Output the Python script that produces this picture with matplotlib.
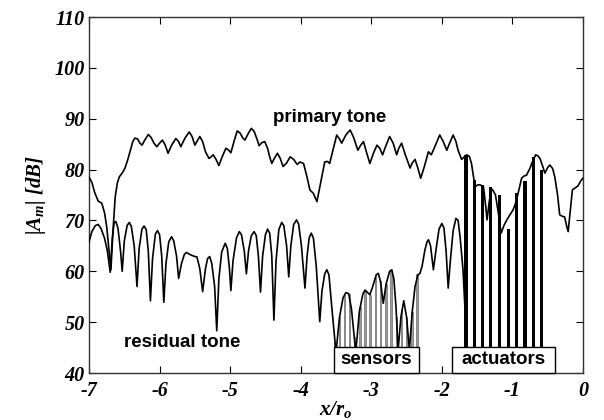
import matplotlib
matplotlib.use("Agg")
import matplotlib.pyplot as plt
from matplotlib.patches import Rectangle

plt.rcParams['axes.unicode_minus'] = False
plt.rcParams['mathtext.fontset'] = 'custom'
plt.rcParams['mathtext.rm'] = 'Liberation Serif:bold:italic'
plt.rcParams['mathtext.it'] = 'Liberation Serif:bold:italic'
plt.rcParams['mathtext.bf'] = 'Liberation Serif:bold:italic'

# primary tone (x/r_o, dB)
primary_x = [-7.00, -6.96, -6.92, -6.87, -6.82, -6.78, -6.75, -6.72, -6.69, -6.66,
             -6.63, -6.60, -6.57, -6.53, -6.49, -6.45, -6.42, -6.38, -6.35, -6.31,
             -6.28, -6.25, -6.21, -6.16, -6.12, -6.08, -6.04, -6.00, -5.96, -5.92,
             -5.88, -5.83, -5.77, -5.73, -5.70, -5.64, -5.58, -5.54, -5.50, -5.46,
             -5.43, -5.39, -5.35, -5.30, -5.27, -5.24, -5.20, -5.16, -5.11, -5.06,
             -5.02, -4.99, -4.94, -4.90, -4.86, -4.82, -4.79, -4.74, -4.70, -4.66,
             -4.62, -4.59, -4.55, -4.51, -4.47, -4.44, -4.41, -4.37, -4.33, -4.29,
             -4.25, -4.20, -4.15, -4.10, -4.05, -4.01, -3.96, -3.91, -3.87, -3.82,
             -3.77, -3.73, -3.70, -3.66, -3.62, -3.59, -3.54, -3.49, -3.45, -3.42,
             -3.36, -3.30, -3.25, -3.19, -3.15, -3.11, -3.07, -3.02, -2.97, -2.92,
             -2.88, -2.84, -2.79, -2.74, -2.69, -2.64, -2.61, -2.57, -2.52, -2.45,
             -2.42, -2.38, -2.34, -2.30, -2.25, -2.19, -2.15, -2.09, -2.03, -1.98,
             -1.93, -1.89, -1.84, -1.80, -1.77, -1.72, -1.68, -1.65, -1.61, -1.58,
             -1.55, -1.53, -1.49, -1.46, -1.43, -1.41, -1.38, -1.36, -1.33, -1.30,
             -1.27, -1.24, -1.20, -1.16, -1.12, -1.08, -1.04, -0.99, -0.95, -0.92,
             -0.87, -0.84, -0.80, -0.75, -0.71, -0.67, -0.64, -0.61, -0.57, -0.54,
             -0.50, -0.47, -0.43, -0.40, -0.36, -0.33, -0.29, -0.26, -0.23, -0.21,
             -0.18, -0.15, -0.12, -0.07, -0.03, 0.00]
primary_db = [78.5, 77.5, 75.5, 73.8, 73.4, 71.5, 68.8, 64.5, 60.3, 68.0,
              74.5, 77.3, 78.6, 79.3, 80.3, 82.0, 83.5, 85.5, 86.2, 86.0,
              85.2, 84.8, 85.8, 86.9, 86.3, 85.2, 84.5, 85.2, 85.8, 84.8,
              83.2, 84.8, 86.1, 85.5, 84.5, 86.2, 87.4, 86.5, 84.8, 85.8,
              86.5, 85.5, 83.5, 82.2, 82.5, 82.9, 82.0, 80.8, 82.6, 84.2,
              83.8, 83.3, 85.8, 87.6, 87.2, 86.2, 85.8, 87.2, 88.1, 87.5,
              86.0, 84.7, 85.3, 85.5, 84.2, 82.5, 81.2, 82.3, 83.2, 82.2,
              80.6, 81.3, 82.5, 82.0, 81.0, 81.5, 81.2, 78.5, 76.0, 75.3,
              73.7, 76.5, 78.6, 81.5, 81.6, 81.2, 84.0, 86.8, 86.0, 85.2,
              86.8, 87.8, 86.3, 83.8, 84.8, 85.5, 83.5, 81.2, 83.2, 84.8,
              84.2, 82.9, 84.8, 86.5, 85.2, 82.9, 84.2, 85.2, 83.0, 80.3,
              81.3, 82.0, 80.3, 78.3, 80.5, 83.5, 82.9, 84.8, 86.8, 85.5,
              83.8, 85.2, 86.8, 85.5, 83.8, 82.0, 82.5, 82.9, 82.6, 81.2,
              78.5, 76.6, 77.0, 77.0, 76.8, 76.6, 73.0, 70.1, 73.5, 76.3,
              75.8, 75.0, 71.5, 67.5, 69.0, 70.1, 71.0, 72.1, 73.6, 75.3,
              78.3, 78.7, 78.9, 80.3, 81.8, 82.9, 82.7, 82.2, 80.6, 79.3,
              80.4, 80.9, 80.2, 78.6, 75.0, 71.1, 70.8, 70.7, 68.8, 67.8,
              72.0, 76.0, 76.3, 76.8, 77.8, 78.3]

# residual tone after control
residual_x = [-7.00, -6.96, -6.91, -6.87, -6.83, -6.78, -6.74, -6.70, -6.67, -6.645,
              -6.62, -6.59, -6.55, -6.53, -6.50, -6.46, -6.43, -6.40, -6.36, -6.32,
              -6.29, -6.25, -6.22, -6.19, -6.16, -6.13, -6.10, -6.06, -6.03, -6.00,
              -5.97, -5.94, -5.91, -5.87, -5.83, -5.80, -5.76, -5.73, -5.69, -5.65,
              -5.62, -5.57, -5.52, -5.47, -5.43, -5.39, -5.35, -5.32, -5.29, -5.26,
              -5.22, -5.19, -5.16, -5.12, -5.07, -5.04, -5.01, -4.99, -4.96, -4.91,
              -4.87, -4.84, -4.80, -4.77, -4.74, -4.70, -4.66, -4.63, -4.60, -4.57,
              -4.54, -4.50, -4.47, -4.44, -4.41, -4.38, -4.35, -4.31, -4.27, -4.24,
              -4.20, -4.17, -4.14, -4.10, -4.06, -4.03, -3.99, -3.94, -3.91, -3.88,
              -3.85, -3.82, -3.78, -3.73, -3.70, -3.66, -3.63, -3.60, -3.56, -3.50,
              -3.45, -3.40, -3.36, -3.32, -3.28, -3.22, -3.17, -3.12, -3.09, -3.05,
              -3.02, -2.98, -2.93, -2.90, -2.87, -2.83, -2.79, -2.74, -2.71, -2.68,
              -2.65, -2.62, -2.58, -2.54, -2.50, -2.46, -2.42, -2.38, -2.34, -2.31,
              -2.28, -2.24, -2.21, -2.19, -2.16, -2.12, -2.08, -2.04, -2.00, -1.97,
              -1.94, -1.91, -1.88, -1.84, -1.80, -1.77, -1.74, -1.70, -1.67, -1.64]
residual_db = [65.8, 67.8, 69.0, 69.2, 68.4, 66.5, 64.0, 59.8, 66.5, 69.5,
               69.8, 68.5, 63.5, 60.0, 66.0, 69.0, 69.6, 68.8, 65.0, 57.0,
               64.5, 68.3, 68.9, 68.2, 64.0, 54.2, 62.5, 67.3, 68.0, 67.2,
               63.0, 53.9, 61.5, 65.8, 66.8, 66.0, 63.0, 58.6, 61.5, 63.3,
               63.7, 63.3, 63.0, 62.8, 60.5, 56.0, 60.5, 62.5, 62.9, 61.5,
               57.0, 48.3, 58.5, 63.8, 65.5, 64.5, 60.5, 56.2, 62.0, 66.6,
               67.8, 67.2, 64.0, 59.5, 64.0, 67.0, 67.8, 67.0, 63.0, 55.9,
               63.0, 67.2, 68.3, 67.5, 63.0, 50.4, 62.0, 68.2, 69.6, 69.0,
               65.0, 58.9, 65.0, 69.2, 70.1, 69.3, 65.0, 56.7, 63.0, 66.6,
               67.5, 66.5, 61.0, 50.1, 56.0, 59.5, 60.3, 59.3, 53.0, 44.0,
               51.0, 54.8, 55.8, 55.6, 52.5, 44.0, 52.0, 55.5, 56.3, 55.8,
               55.4, 57.0, 59.3, 59.6, 58.0, 53.7, 57.5, 60.0, 60.3, 58.5,
               53.0, 44.5, 51.0, 54.2, 51.0, 44.5, 52.0, 57.0, 59.3, 59.6,
               61.0, 64.2, 65.8, 66.2, 65.0, 60.3, 64.5, 68.3, 69.4, 68.5,
               64.0, 56.7, 62.0, 68.0, 70.4, 70.0, 66.5, 60.3, 52.0, 38.0]

# sensor and actuator positions with bar heights
sensor_x = [-3.52, -3.45, -3.38, -3.31, -3.24, -3.16, -3.09, -3.02, -2.94,
            -2.87, -2.79, -2.72, -2.64, -2.57, -2.50, -2.42, -2.35]
sensor_db = [46.0, 51.0, 55.3, 55.6, 47.0, 53.0, 56.3, 55.4, 58.8,
             58.0, 57.5, 60.2, 51.0, 52.5, 51.0, 52.0, 59.4]
actuator_x = [-1.66, -1.54, -1.42, -1.31, -1.18, -1.06, -0.94, -0.82, -0.70, -0.59]
actuator_db = [82.9, 78.0, 77.0, 76.6, 75.0, 68.3, 75.3, 77.7, 82.5, 80.0]

y_floor = 40

fig = plt.figure(figsize=(6.04, 4.2), dpi=100)
ax = fig.add_axes([0.1474, 0.1119, 0.8178, 0.8476])

ax.bar(sensor_x, [h - y_floor for h in sensor_db], bottom=y_floor, width=0.022,
       color='#9a9a9a', edgecolor='#555555', linewidth=0.4, zorder=2)
ax.plot(residual_x, residual_db, color='black', lw=1.2, zorder=3)
ax.bar(actuator_x, [h - y_floor for h in actuator_db], bottom=y_floor, width=0.047,
       color='black', zorder=4)
ax.plot(primary_x, primary_db, color='black', lw=1.2, zorder=5)

# labelled boxes
label_font = dict(family='Liberation Sans', weight='bold', size=13.5)
for x0, x1, name in [(-3.526, -2.326, 'sensors'), (-1.863, -0.390, 'actuators')]:
    ax.add_patch(Rectangle((x0, 40), x1 - x0, 5.2, facecolor='white',
                           edgecolor='black', lw=1.0, zorder=6, clip_on=False))
    ax.text((x0 + x1) / 2, 42.7, name, ha='center', va='center', zorder=7, **label_font)

ax.text(-3.59, 89.4, 'primary tone', ha='center', va='baseline', **label_font)
ax.text(-5.68, 45.05, 'residual tone', ha='center', va='baseline', **label_font)

ax.set_xlim(-7, 0)
ax.set_ylim(40, 110)
ax.set_xticks(range(-7, 1))
ax.set_yticks(range(40, 111, 10))
tick_font = dict(family='Liberation Serif', weight='bold', style='italic', size=14.5)
ax.set_xticklabels([str(v) for v in range(-7, 1)], **tick_font)
ax.set_yticklabels([str(v) for v in range(40, 111, 10)], **tick_font)
ax.tick_params(direction='in', length=5, width=0.8, top=True, right=True,
               labeltop=False, labelright=False)
ax.tick_params(axis='x', pad=6)
ax.tick_params(axis='y', pad=3)
for s in ax.spines.values():
    s.set_color('#333333')
    s.set_linewidth(1.0)

ax.set_xlabel(r'$x/r_o$', fontsize=15, labelpad=-2)
ax.set_ylabel(r'$|A_m|\ [dB]$', fontsize=15, labelpad=5)

fig.savefig('out.png', dpi=100)
